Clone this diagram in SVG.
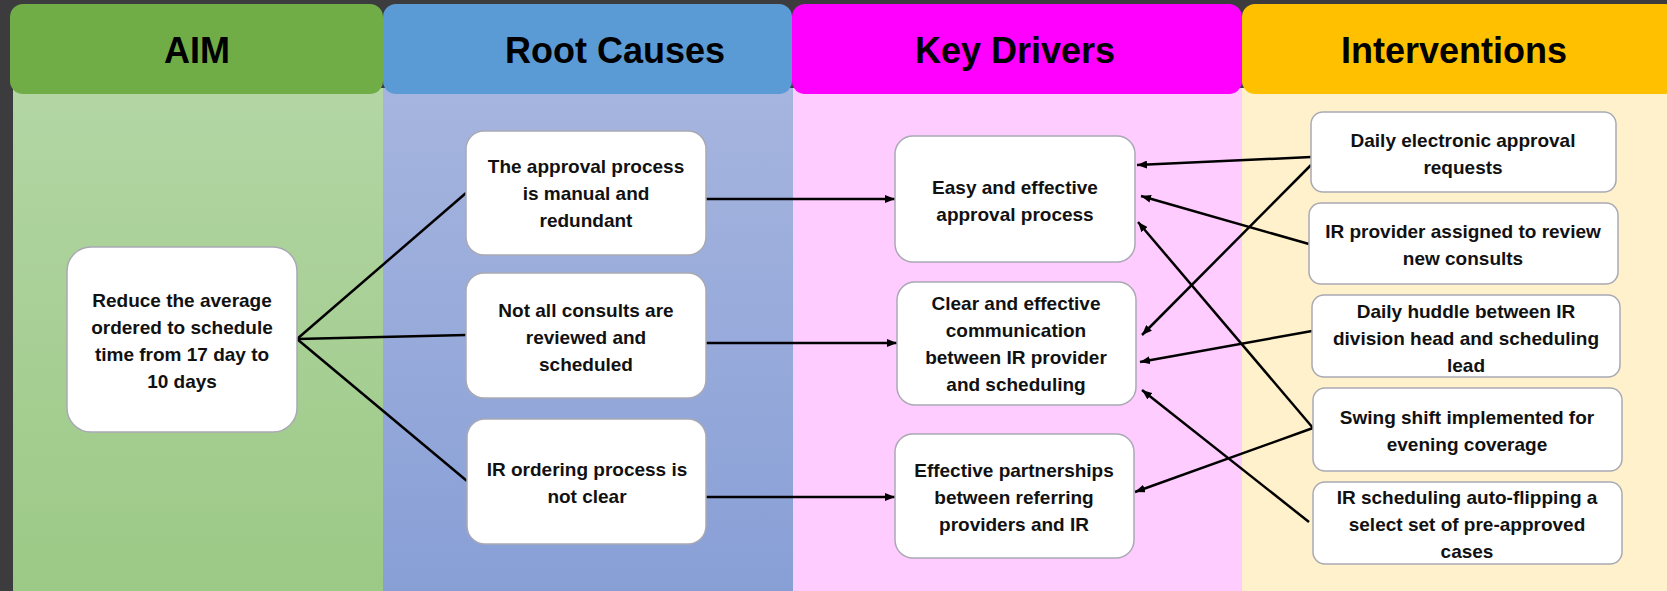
<svg xmlns="http://www.w3.org/2000/svg" width="1667" height="591" viewBox="0 0 1667 591">
  <defs>
    <linearGradient id="aimBody" x1="0" y1="0" x2="0" y2="1">
      <stop offset="0" stop-color="#b3d6a4"/>
      <stop offset="1" stop-color="#9cc986"/>
    </linearGradient>
    <linearGradient id="rootBody" x1="0" y1="0" x2="0" y2="1">
      <stop offset="0" stop-color="#a6b5df"/>
      <stop offset="1" stop-color="#889fd6"/>
    </linearGradient>
    <marker id="arrow" viewBox="0 0 10 8" refX="10" refY="4" markerWidth="10" markerHeight="8" markerUnits="userSpaceOnUse" orient="auto">
      <path d="M0,0 L10,4 L0,8 z" fill="#000"/>
    </marker>
  </defs>
  <style>
    .hdr { font-family: "Liberation Sans", Arial, sans-serif; font-weight: bold; font-size: 36px; fill: #000; text-anchor: middle; }
    .box { fill: #ffffff; stroke: #a9a9b4; stroke-width: 1.5; }
    .txt { font-family: "Liberation Sans", Arial, sans-serif; font-weight: bold; font-size: 19px; fill: #111; text-anchor: middle; }
    .link { stroke: #000; stroke-width: 2.5; fill: none; }
    .arr { stroke: #000; stroke-width: 2.5; fill: none; marker-end: url(#arrow); }
  </style>

  <!-- page background -->
  <rect x="0" y="0" width="1667" height="591" fill="#3c3c3e"/>

  <!-- column bodies -->
  <g id="columns">
    <rect x="13" y="88" width="370" height="503" fill="url(#aimBody)"/>
    <rect x="383" y="88" width="410" height="503" fill="url(#rootBody)"/>
    <rect x="793" y="88" width="449" height="503" fill="#ffccff"/>
    <rect x="1242" y="88" width="425" height="503" fill="#fff1cc"/>
  </g>

  <!-- column headers -->
  <g id="headers">
    <rect x="10" y="4" width="373" height="90" rx="13" fill="#70ad47"/>
    <rect x="383" y="4" width="409" height="90" rx="13" fill="#5b9bd5"/>
    <rect x="792" y="4" width="450" height="90" rx="13" fill="#ff00ff"/>
    <rect x="1242" y="4" width="436" height="90" rx="13" fill="#ffc000"/>
    <text class="hdr" x="197" y="63">AIM</text>
    <text class="hdr" x="615" y="63">Root Causes</text>
    <text class="hdr" x="1015" y="63">Key Drivers</text>
    <text class="hdr" x="1454" y="63">Interventions</text>
  </g>

  <!-- connectors -->
  <g id="connectors">
    <!-- aim to root causes -->
    <line class="link" x1="297" y1="339" x2="466" y2="193"/>
    <line class="link" x1="297" y1="339" x2="466" y2="335"/>
    <line class="link" x1="297" y1="339" x2="467" y2="481"/>
    <!-- root causes to key drivers -->
    <line class="arr" x1="706" y1="199" x2="895" y2="199"/>
    <line class="arr" x1="706" y1="343" x2="897" y2="343"/>
    <line class="arr" x1="706" y1="497" x2="895" y2="497"/>
    <!-- interventions to key drivers -->
    <line class="arr" x1="1311" y1="157" x2="1137" y2="165"/>
    <line class="arr" x1="1309" y1="244" x2="1141" y2="196"/>
    <line class="arr" x1="1311" y1="165" x2="1142" y2="335"/>
    <line class="arr" x1="1312" y1="331" x2="1140" y2="362"/>
    <line class="arr" x1="1313" y1="428" x2="1138" y2="222"/>
    <line class="arr" x1="1313" y1="428" x2="1135" y2="492"/>
    <line class="arr" x1="1309" y1="522" x2="1142" y2="390"/>
  </g>

  <!-- aim -->
  <g id="aim">
    <rect class="box" x="67" y="247" width="230" height="185" rx="24"/>
    <text class="txt" x="182" y="307">Reduce the average</text>
    <text class="txt" x="182" y="334">ordered to schedule</text>
    <text class="txt" x="182" y="361">time from 17 day to</text>
    <text class="txt" x="182" y="388">10 days</text>
  </g>

  <!-- root causes -->
  <g id="root-approval">
    <rect class="box" x="466" y="131" width="240" height="124" rx="18"/>
    <text class="txt" x="586" y="173">The approval process</text>
    <text class="txt" x="586" y="200">is manual and</text>
    <text class="txt" x="586" y="227">redundant</text>
  </g>
  <g id="root-consults">
    <rect class="box" x="466" y="273" width="240" height="125" rx="18"/>
    <text class="txt" x="586" y="317">Not all consults are</text>
    <text class="txt" x="586" y="344">reviewed and</text>
    <text class="txt" x="586" y="371">scheduled</text>
  </g>
  <g id="root-ordering">
    <rect class="box" x="467" y="419" width="239" height="125" rx="18"/>
    <text class="txt" x="587" y="476">IR ordering process is</text>
    <text class="txt" x="587" y="503">not clear</text>
  </g>

  <!-- key drivers -->
  <g id="driver-approval">
    <rect class="box" x="895" y="136" width="240" height="126" rx="18"/>
    <text class="txt" x="1015" y="194">Easy and effective</text>
    <text class="txt" x="1015" y="221">approval process</text>
  </g>
  <g id="driver-communication">
    <rect class="box" x="897" y="282" width="239" height="123" rx="18"/>
    <text class="txt" x="1016" y="310">Clear and effective</text>
    <text class="txt" x="1016" y="337">communication</text>
    <text class="txt" x="1016" y="364">between IR provider</text>
    <text class="txt" x="1016" y="391">and scheduling</text>
  </g>
  <g id="driver-partnerships">
    <rect class="box" x="895" y="434" width="239" height="124" rx="18"/>
    <text class="txt" x="1014" y="477">Effective partnerships</text>
    <text class="txt" x="1014" y="504">between referring</text>
    <text class="txt" x="1014" y="531">providers and IR</text>
  </g>

  <!-- interventions -->
  <g id="int-electronic">
    <rect class="box" x="1311" y="112" width="305" height="80" rx="12"/>
    <text class="txt" x="1463" y="147">Daily electronic approval</text>
    <text class="txt" x="1463" y="174">requests</text>
  </g>
  <g id="int-provider">
    <rect class="box" x="1309" y="203" width="309" height="81" rx="12"/>
    <text class="txt" x="1463" y="238">IR provider assigned to review</text>
    <text class="txt" x="1463" y="265">new consults</text>
  </g>
  <g id="int-huddle">
    <rect class="box" x="1312" y="295" width="308" height="82" rx="12"/>
    <text class="txt" x="1466" y="318">Daily huddle between IR</text>
    <text class="txt" x="1466" y="345">division head and scheduling</text>
    <text class="txt" x="1466" y="372">lead</text>
  </g>
  <g id="int-swing">
    <rect class="box" x="1313" y="388" width="309" height="83" rx="12"/>
    <text class="txt" x="1467" y="424">Swing shift implemented for</text>
    <text class="txt" x="1467" y="451">evening coverage</text>
  </g>
  <g id="int-autoflip">
    <rect class="box" x="1313" y="482" width="309" height="82" rx="12"/>
    <text class="txt" x="1467" y="504">IR scheduling auto-flipping a</text>
    <text class="txt" x="1467" y="531">select set of pre-approved</text>
    <text class="txt" x="1467" y="558">cases</text>
  </g>
</svg>
